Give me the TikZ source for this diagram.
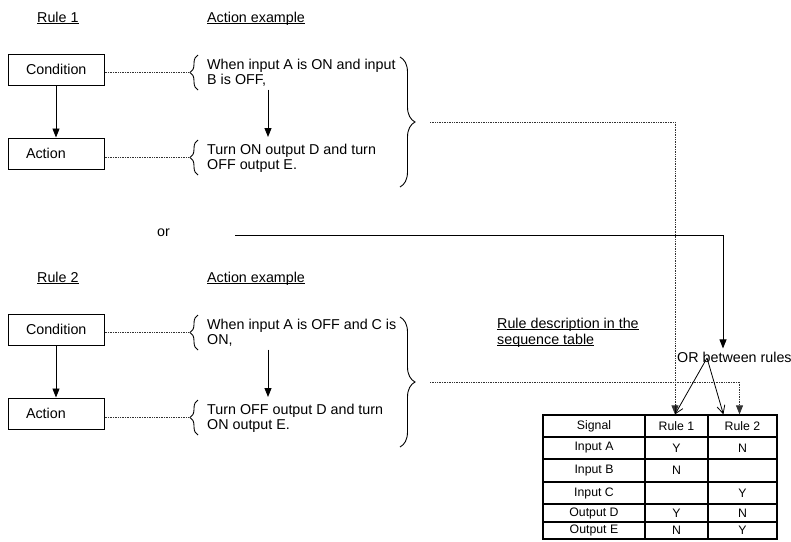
\documentclass[tikz,border=0pt]{standalone}
\usepackage{fontspec}
\setmainfont{Liberation Sans}
\usetikzlibrary{arrows.meta, positioning, calc, decorations.pathreplacing}
\newcommand{\undl}[1]{\underline{\smash{#1}\vphantom{A}}}

\begin{document}
\begin{tikzpicture}[x=1pt, y=-1pt,
          every node/.style={font=\fontsize{14.3}{15}\selectfont},
          rulebox/.style={rectangle, draw=black, line width=1pt, minimum width=96pt, minimum height=31pt, text width=60pt, inner xsep=18pt, inner ysep=0pt, align=left},
          txt/.style={inner sep=0pt, align=left, anchor=north west},
          lbl/.style={inner sep=0pt, anchor=base west},
          cell/.style={draw=black, line width=1.2pt, inner sep=0pt, font=\fontsize{12.3}{13}\selectfont},
          arrow/.style={-{Triangle[width=7pt,length=9pt]}, line width=0.9pt},
          dotline/.style={densely dotted, line width=0.7pt, black!80},
          dotarrow/.style={dotline, -{Triangle[width=7pt,length=9pt]}},
          orarrow/.style={-{Straight Barb[width=8pt,length=8pt]}, line width=0.8pt},
          lbrace/.style={decorate, decoration={brace, amplitude=8pt}, line width=0.9pt},
          rbrace/.style={decorate, decoration={brace, amplitude=15pt}, line width=0.9pt}]

        \useasboundingbox (0,0) rectangle (791,541);

        % rule 1
        \node [lbl] (rone) at (37,22) {\undl{Rule 1}};
        \node [lbl] (exone) at (207,22) {\undl{Action example}};
        \node [rulebox] (condone) at (56,69.5) {Condition};
        \node [rulebox, below=52pt of condone] (actone) {Action};
        \node [txt] (ctone) at (207,59) {When input A is ON and input\\B is OFF,};
        \node [txt] (atone) at (207,144) {Turn ON output D and turn\\OFF output E.};
        \draw [lbrace] (198,90) -- (198,55);
        \draw [lbrace] (198,175) -- (198,140);
        \draw [rbrace] (400,57) -- (400,187);
        \coordinate (tc1) at (190,72.5);
        \coordinate (ta1) at (190,157.5);
        \coordinate (bt1) at (415,122);

        \draw [arrow] (condone) -- (actone);
        \draw [arrow] ([xshift=61pt,yshift=-3pt]ctone.south west) -- ([xshift=61pt,yshift=7pt]atone.north west);
        \draw [dotline] (condone.east |- tc1) -- (tc1);
        \draw [dotline] (actone.east |- ta1) -- (ta1);

        % or
        \node [lbl] (ortxt) at (157,236) {or};
        \coordinate (orst) at (235,235);

        % rule 2
        \node [lbl] (rtwo) at (37,282) {\undl{Rule 2}};
        \node [lbl] (extwo) at (207,282) {\undl{Action example}};
        \node [rulebox] (condtwo) at (56,329.5) {Condition};
        \node [rulebox, below=52pt of condtwo] (acttwo) {Action};
        \node [txt] (cttwo) at (207,319) {When input A is OFF and C is\\ON,};
        \node [txt] (attwo) at (207,404) {Turn OFF output D and turn\\ON output E.};
        \draw [lbrace] (198,350) -- (198,315);
        \draw [lbrace] (198,435) -- (198,400);
        \draw [rbrace] (400,317) -- (400,447);
        \coordinate (tc2) at (190,332.5);
        \coordinate (ta2) at (190,417.5);
        \coordinate (bt2) at (415,382);

        \draw [arrow] (condtwo) -- (acttwo);
        \draw [arrow] ([xshift=61pt,yshift=-3pt]cttwo.south west) -- ([xshift=61pt,yshift=7pt]attwo.north west);
        \draw [dotline] (condtwo.east |- tc2) -- (tc2);
        \draw [dotline] (acttwo.east |- ta2) -- (ta2);

        % sequence table
        \node [txt, font=\fontsize{14.3}{16}\selectfont] (rdesc) at (497,318) {\undl{Rule description in the}\\\undl{sequence table}};
        \foreach \sg/\ra/\rb/\ta/\tb [count=\i from 0] in {Signal/Rule 1/Rule 2/415/437, Input A/Y/N/437/459, Input B/N//459/482, Input C//Y/482/504, Output D/Y/N/504/522, Output E/N/Y/522/539}{
          \node [cell, minimum width=102pt, minimum height={(\tb-\ta)*1pt}] (sg\i) at (594,{(\ta+\tb)/2}) {\sg};
          \node [cell, minimum width=63pt, minimum height={(\tb-\ta)*1pt}] (ra\i) at (676.5,{(\ta+\tb)/2}) {\ra};
          \node [cell, minimum width=69pt, minimum height={(\tb-\ta)*1pt}] (rb\i) at (742.5,{(\ta+\tb)/2}) {\rb};
        }
        \node [lbl] (orbtw) at (677,362) {OR between rules};

        \draw [dotarrow] ([xshift=15pt]bt1) -| ([xshift=-1.5pt]ra0.north);
        \draw [dotarrow] ([xshift=15pt]bt2) -| ([xshift=-3pt]rb0.north);
        \draw [arrow] (orst) -| ([xshift=46pt,yshift=3pt]orbtw.north west);
        \draw [orarrow] ([xshift=30pt,yshift=4pt]orbtw.base west) -- ([xshift=-1.5pt]ra0.north);
        \draw [orarrow] ([xshift=30pt,yshift=4pt]orbtw.base west) -- ([xshift=16pt]rb0.north west);
      \end{tikzpicture}
\end{document}
